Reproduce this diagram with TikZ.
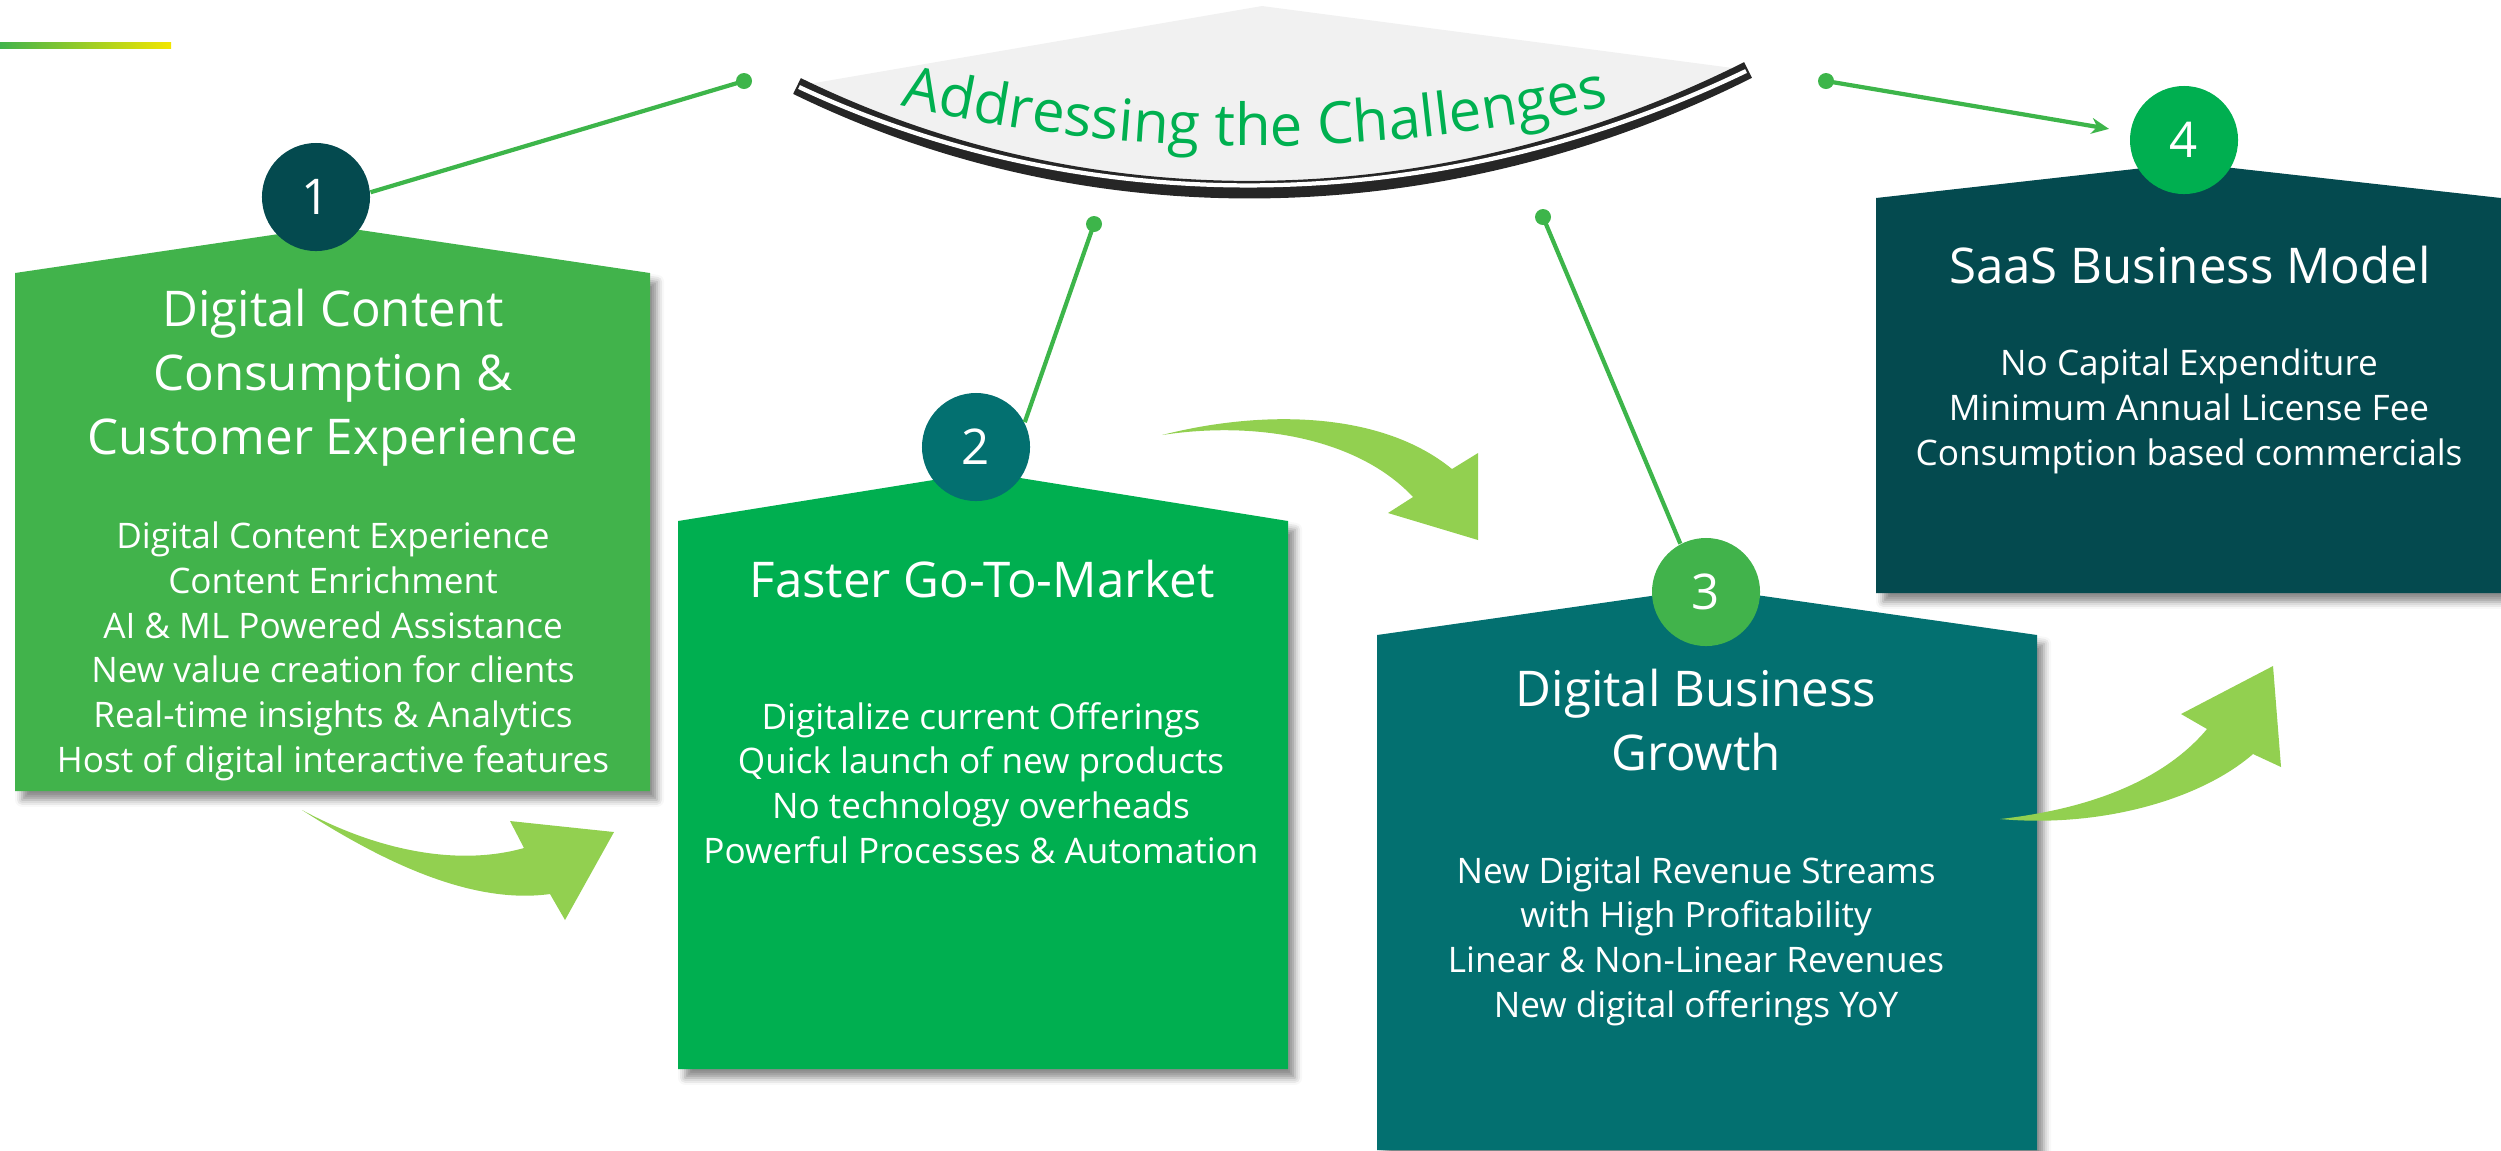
\documentclass[tikz,border=0pt]{standalone}
\usepackage{fontspec}
\setmainfont{Open Sans}
\usetikzlibrary{arrows.meta,shadows.blur,decorations.text}

\definecolor{leafgreen}{HTML}{41B34B}
\definecolor{grassgreen}{HTML}{00AF50}
\definecolor{seateal}{HTML}{037070}
\definecolor{deepteal}{HTML}{044A4F}
\definecolor{limegreen}{HTML}{92D050}
\definecolor{linkgreen}{HTML}{3DB54A}
\definecolor{arcgrey}{HTML}{F1F1F1}
\definecolor{titlegreen}{HTML}{00B050}
\definecolor{baryellow}{HTML}{F3E600}

\tikzset{
  panel/.style={blur shadow={shadow xshift=2pt,shadow yshift=-2.5pt,shadow blur radius=2pt,shadow opacity=45}},
  badge/.style={circle,minimum size=1.08cm,inner sep=0pt,text=white,font=\fontsize{14}{14}\selectfont},
  knob/.style={circle,fill=linkgreen,minimum size=0.16cm,inner sep=0pt},
  link/.style={draw=linkgreen,line width=1.2pt},
  headline/.style={text=white,align=center,inner sep=0pt,anchor=base,font=\fontsize{14}{18.1}\selectfont},
  bodytext/.style={text=white,align=center,inner sep=0pt,anchor=base,font=\fontsize{10}{12.7}\selectfont},
  sweep/.style={fill=limegreen}
}

\begin{document}
\begin{tikzpicture}[x=0.01cm,y=-0.01cm]
\useasboundingbox (0,0) rectangle (2501,1150);

\shade[left color=leafgreen,right color=baryellow] (0,42) rectangle (171,48);

% title fan
\fill[arcgrey] (797,86) -- (1262,6) -- (1748,70) .. controls (1449,208) and (1098,221) .. cycle;
\draw[black!85,line width=5pt] (797,86) .. controls (1098,233) and (1449,220) .. (1748,70);
\draw[white,line width=1.2pt] (799,87) .. controls (1098,227) and (1449,214) .. (1746,71);
\path[decorate,decoration={text along path,text align=center,text color=titlegreen,
  text={|\fontsize{16.5}{16.5}\selectfont|Addressing the Challenges}}]
  (1255,-1431) ++(105:1577) arc[start angle=105,end angle=75,radius=1577];

% panels
\fill[leafgreen,panel] (15,273) -- (333,226) -- (650,273) -- (650,791) -- (15,791) -- cycle;
\fill[grassgreen,panel] (678,521) -- (983,472) -- (1288,521) -- (1288,1069) -- (678,1069) -- cycle;
\fill[seateal,panel] (1377,635) -- (1707,588) -- (2037,635) -- (2037,1150) -- (1377,1150) -- cycle;
\fill[deepteal,panel] (1876,198) -- (2188,163) -- (2501,198) -- (2501,593) -- (1876,593) -- cycle;

% curved arrows
\fill[sweep] (302,810) .. controls (380,860) and (470,905) .. (550,894) -- (565,920) -- (614,832)
  -- (510,821) -- (524,848) .. controls (460,866) and (380,852) .. cycle;
\fill[sweep] (1162,435) .. controls (1260,410) and (1380,410) .. (1452,469) -- (1478,453)
  -- (1478,540) -- (1388,513) -- (1413,497) .. controls (1360,440) and (1260,420) .. cycle;
\fill[sweep] (2000,819) .. controls (2100,828) and (2200,800) .. (2253,754) -- (2281,767)
  -- (2273,666) -- (2181,714) -- (2207,729) .. controls (2160,785) and (2080,810) .. cycle;

\node[headline] (h1) at (333,454) {Digital Content\\Consumption \&\\Customer Experience};
\node[bodytext] (b1) at (333,772) {Digital Content Experience\\Content Enrichment\\AI \& ML Powered Assistance\\New value creation for clients\\Real-time insights \& Analytics\\Host of digital interactive features};
\node[headline] (h2) at (982,597) {Faster Go-To-Market};
\node[bodytext] (b2) at (981,863) {Digitalize current Offerings\\Quick launch of new products\\No technology overheads\\Powerful Processes \& Automation};
\node[headline] (h3) at (1696,770) {Digital Business\\Growth};
\node[bodytext] (b3) at (1696,1017) {New Digital Revenue Streams\\with High Profitability\\Linear \& Non-Linear Revenues\\New digital offerings YoY};
\node[headline] (h4) at (2190,283) {SaaS Business Model};
\node[bodytext] (b4) at (2189,465) {No Capital Expenditure\\Minimum Annual License Fee\\Consumption based commercials};

\node[badge,fill=deepteal] (n1) at (316,197) {1};
\node[badge,fill=seateal] (n2) at (976,447) {2};
\node[badge,fill=leafgreen] (n3) at (1706,592) {3};
\node[badge,fill=grassgreen] (n4) at (2184,140) {4};

\node[knob] (k1) at (744,81) {};
\node[knob] (k2) at (1094,224) {};
\node[knob] (k3) at (1543,217) {};
\node[knob] (k4) at (1826,81) {};

\draw[link] (k1.center) -- (n1.5);
\draw[link] (k2.center) -- (n2.27);
\draw[link] (k3.center) -- (n3.118);
\draw[link,-{Stealth[length=5pt,width=4.5pt]},shorten >=6pt] (k4.center) -- (n4.172);
\end{tikzpicture}
\end{document}
